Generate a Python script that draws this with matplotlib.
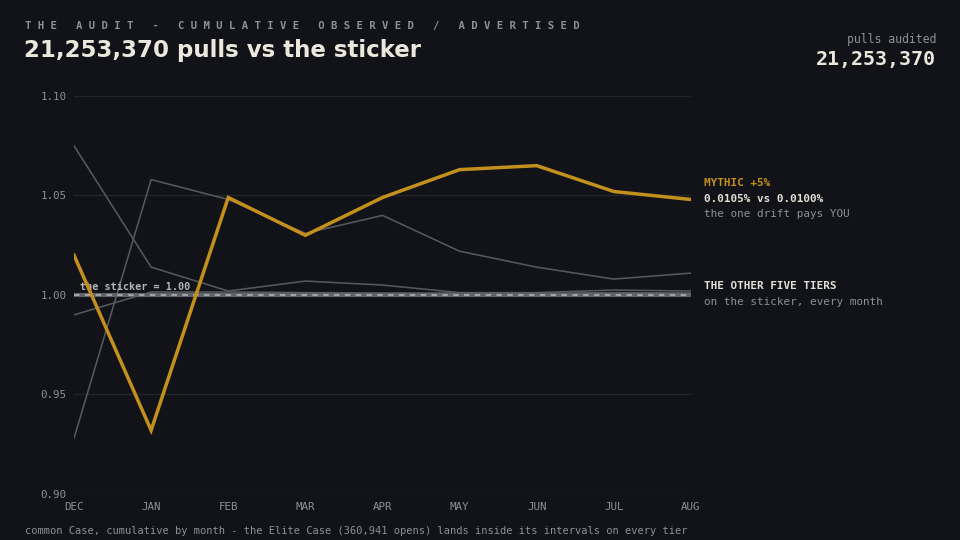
import matplotlib
matplotlib.use("Agg")
from matplotlib import pyplot as plt

months = ["DEC", "JAN", "FEB", "MAR", "APR", "MAY", "JUN", "JUL", "AUG"]

mythic = [1.020, 0.932, 1.049, 1.030, 1.049, 1.063, 1.065, 1.052, 1.048]

# the other five tiers
tier_a = [1.075, 1.014, 1.002, 1.007, 1.005, 1.0012, 1.0012, 1.0025, 1.002]
tier_b = [0.928, 1.058, 1.048, 1.031, 1.040, 1.022, 1.014, 1.008, 1.011]
tier_c = [0.990, 1.0015, 1.0015, 1.0012, 1.001, 1.001, 1.0008, 1.0012, 1.001]
tier_d = [0.9995, 1.0003, 1.0004, 1.0002, 1.0003, 0.9998, 1.0002, 1.0004, 1.0003]
tier_e = [1.0004, 0.9998, 1.0001, 0.9999, 1.0002, 1.0001, 0.9999, 1.0001, 1.0]
other_tiers = [tier_a, tier_b, tier_c, tier_d, tier_e]

sticker = 1.00
yticks = [0.90, 0.95, 1.00, 1.05, 1.10]

BG = "#111318"
GOLD = "#c4901d"
GRAY_LINE = "#55585e"
TXT_GRAY = "#8d9096"
TXT_LIGHT = "#ebe7dc"
MONO = "DejaVu Sans Mono"

fig = plt.figure(figsize=(9.6, 5.4), dpi=100, facecolor=BG)
ax = fig.add_axes([74 / 960, 1 - 494 / 540, (691 - 74) / 960, (494 - 96) / 540])
ax.set_facecolor(BG)

x = list(range(len(months)))
for yv in yticks:
    ax.axhline(yv, color="#23262b", lw=0.9, zorder=0)

for t in other_tiers:
    ax.plot(x, t, color=GRAY_LINE, lw=1.15, zorder=2)

ax.axhline(sticker, color="#5f6268", lw=3, zorder=3)
ax.axhline(sticker, color="#a9abae", lw=1.3, ls=(0, (3, 3)), zorder=4)
ax.text(0.078, sticker + 0.0015, "the sticker = 1.00", color="#b5b6b8",
        fontsize=7.3, family=MONO, fontweight="bold", va="bottom", zorder=5)

ax.plot(x, mythic, color=GOLD, lw=2.5, zorder=6, solid_joinstyle="miter")

ax.set_xlim(0, len(months) - 1)
ax.set_ylim(0.90, 1.10)
ax.set_xticks(x)
ax.set_xticklabels(months)
ax.set_yticks(yticks)
ax.set_yticklabels([f"{v:.2f}" for v in yticks])
ax.tick_params(axis="both", length=0, colors=TXT_GRAY, labelsize=7.8)
ax.tick_params(axis="y", pad=5.5)
ax.tick_params(axis="x", pad=5.5)
for lab in ax.get_xticklabels() + ax.get_yticklabels():
    lab.set_family(MONO)
for s in ax.spines.values():
    s.set_visible(False)

# header
fig.text(25 / 960, 1 - 26 / 540, "   ".join(" ".join(w) for w in
         "THE AUDIT - CUMULATIVE OBSERVED / ADVERTISED".split(" ")),
         color=TXT_GRAY, fontsize=7.62, family=MONO, fontweight="bold", va="center")
fig.text(24 / 960, 1 - 51 / 540, "21,253,370 pulls vs the sticker", color=TXT_LIGHT,
         fontsize=16.5, family="DejaVu Sans", fontweight="bold", va="center")
fig.text(936 / 960, 1 - 40 / 540, "pulls audited", color=TXT_GRAY, fontsize=8.3,
         family=MONO, ha="right", va="center")
fig.text(936 / 960, 1 - 60 / 540, "21,253,370", color=TXT_LIGHT, fontsize=14.4,
         family=MONO, fontweight="bold", ha="right", va="center")

# right-hand notes
fig.text(704 / 960, 1 - 183 / 540, "MYTHIC +5%", color=GOLD, fontsize=7.9,
         family=MONO, fontweight="bold", va="center")
fig.text(704 / 960, 1 - 199 / 540, "0.0105% vs 0.0100%", color="#e2dfd6", fontsize=7.9,
         family=MONO, fontweight="bold", va="center")
fig.text(704 / 960, 1 - 214 / 540, "the one drift pays YOU", color=TXT_GRAY, fontsize=7.9,
         family=MONO, va="center")
fig.text(704 / 960, 1 - 286 / 540, "THE OTHER FIVE TIERS", color="#e2dfd6", fontsize=7.9,
         family=MONO, fontweight="bold", va="center")
fig.text(704 / 960, 1 - 302 / 540, "on the sticker, every month", color=TXT_GRAY,
         fontsize=7.9, family=MONO, va="center")

fig.text(25 / 960, 1 - 531 / 540,
         "common Case, cumulative by month - the Elite Case (360,941 opens) lands inside its intervals on every tier",
         color=TXT_GRAY, fontsize=7.5, family=MONO, va="center")

fig.savefig("out.png", dpi=100, facecolor=BG)
